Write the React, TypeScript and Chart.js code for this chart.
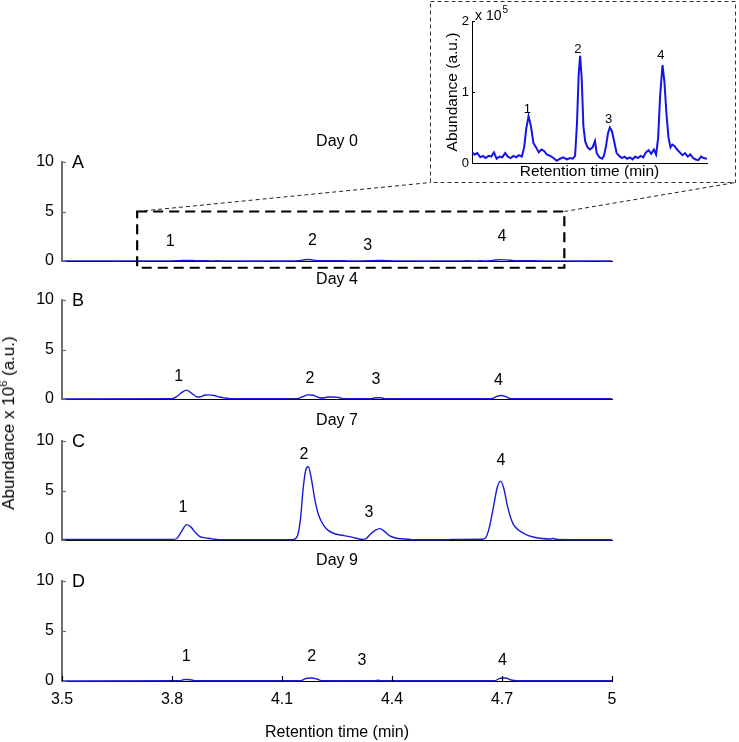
import React, { useEffect, useRef } from "react";
import { Chart, registerables } from "chart.js";

Chart.register(...registerables);

const FONT = "'Liberation Sans', Arial, Helvetica, sans-serif";

// ---------------- DATA ----------------
// Day 0 chromatogram (abundance x 10^5), shown magnified in the inset; panel A uses it in x 10^6 units
const day0Time = [
  3.48, 3.497, 3.514, 3.533, 3.55, 3.567, 3.586, 3.603, 3.62, 3.637, 3.656, 3.673, 3.692, 3.709, 3.726,
  3.745, 3.762, 3.779, 3.798, 3.813, 3.826, 3.841, 3.856, 3.872, 3.889, 3.906, 3.923, 3.94, 3.957, 3.979,
  4.0, 4.021, 4.042, 4.063, 4.085, 4.106, 4.123, 4.138, 4.15, 4.161, 4.17, 4.18, 4.191, 4.203, 4.218,
  4.233, 4.25, 4.265, 4.276, 4.293, 4.31, 4.322, 4.335, 4.348, 4.36, 4.373, 4.388, 4.403, 4.42, 4.437,
  4.454, 4.471, 4.488, 4.505, 4.522, 4.539, 4.556, 4.573, 4.59, 4.607, 4.624, 4.641, 4.655, 4.668, 4.681,
  4.696, 4.708, 4.721, 4.734, 4.747, 4.759, 4.772, 4.789, 4.806, 4.823, 4.84, 4.857, 4.874, 4.891, 4.908,
  4.925, 4.942, 4.959, 4.98, 5.0,
];
const day0Abundance_e5 = [
  0.15, 0.12, 0.14, 0.08, 0.1, 0.07, 0.1, 0.09, 0.15, 0.06, 0.09, 0.08, 0.14, 0.09, 0.07,
  0.1, 0.08, 0.11, 0.09, 0.22, 0.48, 0.66, 0.52, 0.28, 0.22, 0.15, 0.19, 0.17, 0.12, 0.1,
  0.07, 0.03, 0.06, 0.08, 0.05, 0.07, 0.06, 0.1, 0.55, 1.25, 1.51, 1.2, 0.52, 0.3, 0.22,
  0.19, 0.22, 0.31, 0.14, 0.08, 0.06, 0.1, 0.23, 0.42, 0.5, 0.45, 0.3, 0.14, 0.1, 0.07,
  0.09, 0.06, 0.08, 0.05, 0.09, 0.07, 0.1, 0.08, 0.15, 0.18, 0.13, 0.19, 0.12, 0.35, 0.95,
  1.38, 1.15, 0.7, 0.36, 0.22, 0.26, 0.24, 0.19, 0.15, 0.11, 0.14, 0.09, 0.12, 0.07, 0.05,
  0.04, 0.09, 0.07, 0.06, 0.05,
];

// Day 4 (abundance x 10^6)
const day4Time = [
  3.5, 3.8, 3.815, 3.828, 3.84, 3.853, 3.866, 3.875, 3.888, 3.9, 3.915, 3.93, 3.945, 3.96,
  4.14, 4.155, 4.17, 4.185, 4.2, 4.212, 4.225, 4.24, 4.255, 4.27,
  4.345, 4.355, 4.37, 4.38, 4.67, 4.685, 4.697, 4.71, 4.725, 5.0,
];
const day4Abundance = [
  0, 0.02, 0.3, 0.7, 0.9, 0.6, 0.25, 0.2, 0.38, 0.42, 0.35, 0.2, 0.1, 0.02,
  0.02, 0.2, 0.42, 0.38, 0.15, 0.1, 0.2, 0.2, 0.15, 0.03,
  0.03, 0.12, 0.12, 0.03, 0.03, 0.25, 0.35, 0.25, 0.03, 0.02,
];

// Day 7 (abundance x 10^6)
const day7Time = [
  3.5, 3.8, 3.813, 3.825, 3.84, 3.852, 3.865, 3.876, 3.89, 3.905, 3.915, 3.93,
  4.13, 4.142, 4.15, 4.158, 4.165, 4.172, 4.18, 4.19, 4.2, 4.213, 4.225, 4.24, 4.26, 4.285, 4.3, 4.32,
  4.33, 4.34, 4.355, 4.367, 4.38, 4.394, 4.41, 4.425, 4.445, 4.455, 4.55, 4.56,
  4.645, 4.655, 4.665, 4.677, 4.687, 4.696, 4.705, 4.715, 4.73, 4.745, 4.76, 4.785, 4.81, 4.83, 4.84, 4.85, 5.0,
];
const day7Abundance = [
  0.05, 0.05, 0.15, 0.8, 1.55, 1.3, 0.7, 0.35, 0.22, 0.15, 0.07, 0.04,
  0.04, 0.4, 2.0, 5.3, 7.1, 7.4, 6.2, 4.0, 2.5, 1.5, 1.0, 0.68, 0.5, 0.34, 0.2, 0.06,
  0.15, 0.55, 1.0, 1.15, 0.85, 0.42, 0.2, 0.12, 0.08, 0.02, 0.02, 0.06,
  0.08, 0.2, 1.2, 3.4, 5.3, 5.95, 5.2, 3.4, 1.65, 1.0, 0.65, 0.3, 0.15, 0.1, 0.15, 0.05, 0.02,
];

// Day 9 (abundance x 10^6)
const day9Time = [
  3.5, 3.82, 3.835, 3.85, 3.865, 4.15, 4.165, 4.18, 4.195, 4.21,
  4.355, 4.362, 4.37, 4.68, 4.695, 4.71, 4.725, 4.74, 5.0,
];
const day9Abundance = [
  0, 0.02, 0.15, 0.12, 0.02, 0.02, 0.25, 0.3, 0.2, 0.02,
  0.02, 0.08, 0.02, 0.02, 0.28, 0.3, 0.1, 0.02, 0.02,
];

// Peak annotations: retention time and height (in axis units) of the label centres
const peakNames = ["1", "2", "3", "4"];
const day0LabelTime = [3.795, 4.183, 4.334, 4.7];
const day0LabelLevel = [1.95, 2.05, 1.6, 2.5];
const day4LabelTime = [3.818, 4.176, 4.356, 4.69];
const day4LabelLevel = [2.25, 2.07, 2.0, 1.85];
const day7LabelTime = [3.83, 4.16, 4.337, 4.697];
const day7LabelLevel = [3.3, 8.65, 2.75, 8.0];
const day9LabelTime = [3.839, 4.181, 4.318, 4.701];
const day9LabelLevel = [2.45, 2.47, 2.0, 2.05];
const insetLabelTime = [3.833, 4.155, 4.352, 4.686];
const insetLabelLevel = [0.76, 1.6, 0.62, 1.51];

const dayTitles = ["Day 0", "Day 4", "Day 7", "Day 9"];
const panelLetters = ["A", "B", "C", "D"];
const yTickValues = [0, 5, 10];
const insetYTickValues = [0, 1, 2];
const xMin = 3.5;
const xMax = 5;
const xStep = 0.3;
const yMax = 10;
const zoomBoxTime = [3.705, 4.87];
const zoomBoxLevel = [5, -0.68];

// ---------------- LAYOUT ----------------
const W = 739;
const PLOT_LEFT = 62;
const PLOT_RIGHT = 612;
const INSET = { left: 429, top: 0, width: 309, height: 184 };

type PanelCfg = {
  canvasTop: number;
  canvasHeight: number;
  plotTop: number;
  plotBottom: number;
  time: number[];
  values: number[];
  title: string;
  letter: string;
  labelTime: number[];
  labelLevel: number[];
  showX: boolean;
  zoomBox: boolean;
};

const LINE_COLOR = "rgb(26,26,215)";
const Y_AXIS_COLOR = "#6e6e6e";

function decorPlugin(p: PanelCfg) {
  return {
    id: "decor",
    afterDraw(chart: any) {
      const { ctx, chartArea: a, scales } = chart;
      const x = scales.x;
      const y = scales.y;
      ctx.save();
      // y axis line (reinforced) with inward tick marks
      ctx.strokeStyle = Y_AXIS_COLOR;
      ctx.lineWidth = 2;
      ctx.beginPath();
      ctx.moveTo(Math.round(a.left), a.top);
      ctx.lineTo(Math.round(a.left), a.bottom);
      ctx.stroke();
      ctx.lineWidth = 1.2;
      for (const v of yTickValues) {
        const py = Math.round(y.getPixelForValue(v)) + 0.5;
        ctx.beginPath();
        ctx.moveTo(a.left, py);
        ctx.lineTo(a.left + 4, py);
        ctx.stroke();
      }
      if (p.showX) {
        ctx.strokeStyle = "#000";
        ctx.lineWidth = 1.2;
        for (const t of x.ticks) {
          const px = Math.round(x.getPixelForValue(t.value)) + 0.5;
          ctx.beginPath();
          ctx.moveTo(px, a.bottom);
          ctx.lineTo(px, a.bottom - 5);
          ctx.stroke();
        }
      }
      ctx.fillStyle = "#000";
      ctx.textBaseline = "middle";
      ctx.textAlign = "center";
      ctx.font = `16px ${FONT}`;
      ctx.fillText(p.title, (a.left + a.right) / 2, a.top - 20);
      ctx.textAlign = "left";
      ctx.font = `18px ${FONT}`;
      ctx.fillText(p.letter, a.left + 10, a.top + 1);
      ctx.textAlign = "center";
      ctx.font = `16px ${FONT}`;
      p.labelTime.forEach((t, i) => {
        ctx.fillText(peakNames[i], x.getPixelForValue(t), y.getPixelForValue(p.labelLevel[i]));
      });
      if (p.zoomBox) {
        const L = x.getPixelForValue(zoomBoxTime[0]);
        const R = x.getPixelForValue(zoomBoxTime[1]);
        const T = y.getPixelForValue(zoomBoxLevel[0]);
        const B = y.getPixelForValue(zoomBoxLevel[1]);
        ctx.strokeStyle = "#000";
        ctx.lineWidth = 2.2;
        ctx.setLineDash([10, 6]);
        ctx.strokeRect(L, T, R - L, B - T);
        ctx.lineWidth = 1;
        ctx.strokeStyle = "#222";
        ctx.setLineDash([4, 3]);
        const ib = INSET.top + INSET.height - 1.5;
        ctx.beginPath();
        ctx.moveTo(L, T);
        ctx.lineTo(INSET.left + 1.5, ib);
        ctx.moveTo(R, T);
        ctx.lineTo(INSET.left + INSET.width - 2.5, ib);
        ctx.stroke();
      }
      ctx.restore();
    },
  };
}

function Panel({ p }: { p: PanelCfg }) {
  const ref = useRef<HTMLCanvasElement>(null);
  useEffect(() => {
    const bottomSpace = p.canvasTop + p.canvasHeight - p.plotBottom;
    const chart = new Chart(ref.current as HTMLCanvasElement, {
      type: "line",
      data: {
        datasets: [
          {
            data: p.time.map((t, i) => ({ x: t, y: p.values[i] })),
            borderColor: LINE_COLOR,
            borderWidth: 1.4,
            pointRadius: 0,
            cubicInterpolationMode: "monotone",
            clip: { left: 0, right: 0, top: 4, bottom: 4 } as any,
          },
        ],
      },
      options: {
        animation: false,
        responsive: false,
        events: [],
        layout: { padding: { left: 0, right: W - PLOT_RIGHT, top: p.plotTop - p.canvasTop, bottom: 0 } },
        plugins: { legend: { display: false }, tooltip: { enabled: false }, title: { display: false } },
        scales: {
          x: {
            type: "linear",
            min: xMin,
            max: xMax,
            ticks: {
              display: p.showX,
              stepSize: xStep,
              color: "#000",
              padding: 9,
              maxRotation: 0,
              font: { family: FONT, size: 16 },
              callback: (v: any) => String(Number(Number(v).toFixed(1))),
            },
            grid: { display: false, drawTicks: false },
            border: { display: true, color: "#000", width: 1 },
            title: {
              display: p.showX,
              text: "Retention time (min)",
              color: "#000",
              font: { family: FONT, size: 16 },
              padding: { top: 0, bottom: 0 },
            },
            afterFit: (s: any) => {
              s.height = bottomSpace;
            },
          },
          y: {
            type: "linear",
            min: 0,
            max: yMax,
            ticks: {
              stepSize: 5,
              color: "#000",
              padding: 8,
              font: { family: FONT, size: 16 },
            },
            grid: { display: false, drawTicks: false },
            border: { display: true, color: Y_AXIS_COLOR, width: 2 },
            afterFit: (s: any) => {
              s.width = PLOT_LEFT;
            },
          },
        },
      },
      plugins: [decorPlugin(p)],
    } as any);
    return () => chart.destroy();
  }, []);
  return (
    <canvas
      ref={ref}
      width={W}
      height={p.canvasHeight}
      style={{ position: "absolute", left: 0, top: p.canvasTop, display: "block" }}
    />
  );
}

const insetDecor = {
  id: "insetDecor",
  afterDraw(chart: any) {
    const { ctx, chartArea: a, scales } = chart;
    const x = scales.x;
    const y = scales.y;
    ctx.save();
    // dashed border of the inset
    ctx.strokeStyle = "#333";
    ctx.lineWidth = 1;
    ctx.setLineDash([4, 3]);
    ctx.strokeRect(1.5, 1.5, INSET.width - 4, INSET.height - 3);
    ctx.setLineDash([]);
    // inward ticks
    ctx.strokeStyle = "#000";
    for (const v of insetYTickValues) {
      const py = Math.round(y.getPixelForValue(v)) + 0.5;
      ctx.beginPath();
      ctx.moveTo(a.left, py);
      ctx.lineTo(a.left + 3, py);
      ctx.stroke();
    }
    ctx.fillStyle = "#000";
    // exponent label
    ctx.textAlign = "left";
    ctx.textBaseline = "alphabetic";
    ctx.font = `14px ${FONT}`;
    const base = "x 10";
    const bx = a.left + 3;
    const by = a.top - 1;
    ctx.fillText(base, bx, by);
    const w = ctx.measureText(base).width;
    ctx.font = `10px ${FONT}`;
    ctx.fillText("5", bx + w + 1, by - 7);
    // peak labels
    ctx.textAlign = "center";
    ctx.textBaseline = "middle";
    ctx.font = `13px ${FONT}`;
    insetLabelTime.forEach((t, i) => {
      ctx.fillText(peakNames[i], x.getPixelForValue(t), y.getPixelForValue(insetLabelLevel[i]));
    });
    ctx.restore();
  },
};

function Inset() {
  const ref = useRef<HTMLCanvasElement>(null);
  useEffect(() => {
    const chart = new Chart(ref.current as HTMLCanvasElement, {
      type: "line",
      data: {
        datasets: [
          {
            data: day0Time.map((t, i) => ({ x: t, y: day0Abundance_e5[i] })),
            borderColor: "rgb(20,20,232)",
            borderWidth: 2,
            pointRadius: 0,
            tension: 0,
          },
        ],
      },
      options: {
        animation: false,
        responsive: false,
        events: [],
        layout: { padding: { left: 14, right: 31, top: 21, bottom: 0 } },
        plugins: { legend: { display: false }, tooltip: { enabled: false } },
        scales: {
          x: {
            type: "linear",
            min: 3.48,
            max: 4.98,
            ticks: { display: false },
            grid: { display: false, drawTicks: false },
            border: { display: true, color: "#000", width: 1 },
            title: {
              display: true,
              text: "Retention time (min)",
              color: "#000",
              font: { family: FONT, size: 15.5 },
              padding: { top: 0, bottom: 3 },
            },
            afterFit: (s: any) => {
              s.height = 21;
            },
          },
          y: {
            type: "linear",
            min: 0,
            max: 2,
            ticks: { stepSize: 1, color: "#000", padding: 3, font: { family: FONT, size: 13 } },
            grid: { display: false, drawTicks: false },
            border: { display: true, color: "#000", width: 1 },
            title: {
              display: true,
              text: "Abundance (a.u.)",
              color: "#000",
              font: { family: FONT, size: 15.5 },
              padding: { top: 0, bottom: 0 },
            },
            afterFit: (s: any) => {
              s.width = 29;
            },
          },
        },
      },
      plugins: [insetDecor],
    } as any);
    return () => chart.destroy();
  }, []);
  return (
    <canvas
      ref={ref}
      width={INSET.width}
      height={INSET.height}
      style={{ position: "absolute", left: INSET.left, top: INSET.top, display: "block" }}
    />
  );
}

// Each main panel canvas keeps at least ~20px below its plot so Chart.js does not
// push the plot area up to fit the half-height of the "0" tick label.
const panels: PanelCfg[] = [
  {
    canvasTop: 0, canvasHeight: 283, plotTop: 162, plotBottom: 261,
    time: day0Time, values: day0Abundance_e5.map((v) => v / 10),
    title: dayTitles[0], letter: panelLetters[0],
    labelTime: day0LabelTime, labelLevel: day0LabelLevel, showX: false, zoomBox: true,
  },
  {
    canvasTop: 268, canvasHeight: 153, plotTop: 300, plotBottom: 399,
    time: day4Time, values: day4Abundance,
    title: dayTitles[1], letter: panelLetters[1],
    labelTime: day4LabelTime, labelLevel: day4LabelLevel, showX: false, zoomBox: false,
  },
  {
    canvasTop: 408, canvasHeight: 154, plotTop: 441, plotBottom: 540,
    time: day7Time, values: day7Abundance,
    title: dayTitles[2], letter: panelLetters[2],
    labelTime: day7LabelTime, labelLevel: day7LabelLevel, showX: false, zoomBox: false,
  },
  {
    canvasTop: 548, canvasHeight: 194, plotTop: 581, plotBottom: 681,
    time: day9Time, values: day9Abundance,
    title: dayTitles[3], letter: panelLetters[3],
    labelTime: day9LabelTime, labelLevel: day9LabelLevel, showX: true, zoomBox: false,
  },
];

export default function App() {
  return (
    <div
      style={{
        position: "absolute",
        left: 0,
        top: 0,
        width: W,
        height: 742,
        background: "#fff",
        overflow: "hidden",
        fontFamily: FONT,
      }}
    >
      {panels.map((p, i) => (
        <Panel key={i} p={p} />
      ))}
      <Inset />
      <div
        style={{
          position: "absolute",
          left: 9,
          top: 423,
          transform: "translate(-50%, -50%) rotate(-90deg)",
          whiteSpace: "nowrap",
          fontSize: 17,
          lineHeight: "18px",
          color: "#000",
        }}
      >
        Abundance x 10<sup style={{ fontSize: 11, verticalAlign: "7px", lineHeight: 0 }}>6</sup> (a.u.)
      </div>
    </div>
  );
}
